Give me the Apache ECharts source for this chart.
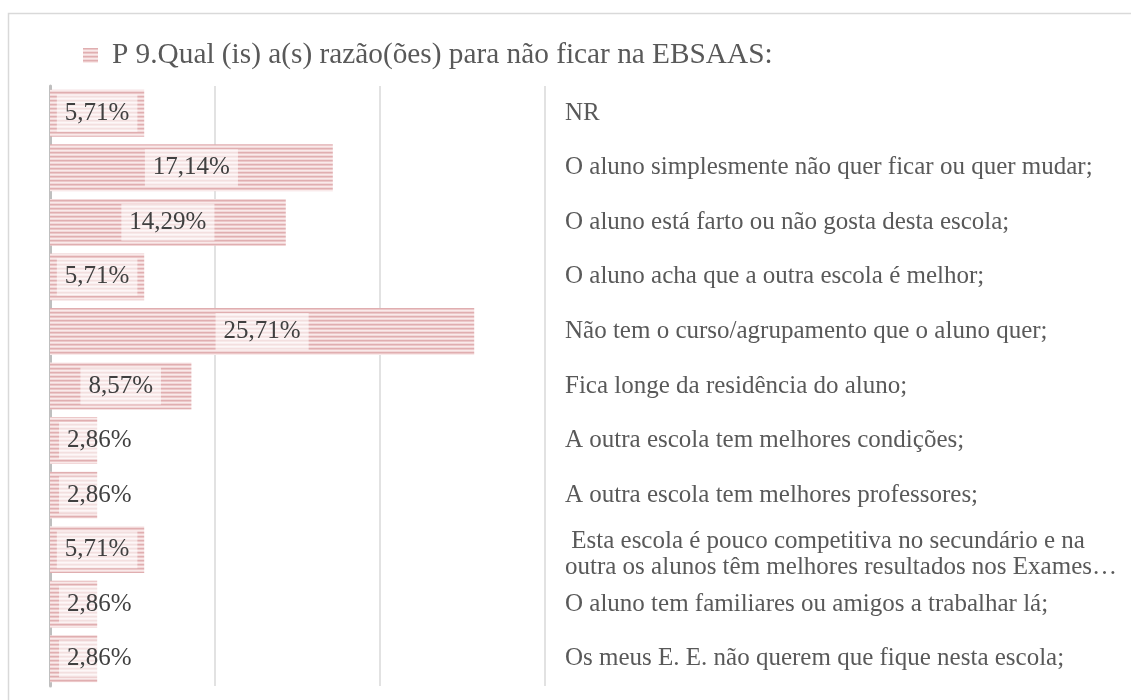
<!DOCTYPE html>
<html>
<head>
<meta charset="utf-8">
<script src="https://cdn.jsdelivr.net/npm/echarts@6/dist/echarts.min.js"></script>
<style>
  html, body { margin: 0; padding: 0; background: #fff; }
  #chart { width: 1131px; height: 700px; }
</style>
</head>
<body>
<div id="chart"></div>
<script>
const seriesName = 'P 9.Qual (is) a(s) razão(ões) para não ficar na EBSAAS:'

const categories = [
  'NR',
  'O aluno simplesmente não quer ficar ou quer mudar;',
  'O aluno está farto ou não gosta desta escola;',
  'O aluno acha que a outra escola é melhor;',
  'Não tem o curso/agrupamento que o aluno quer;',
  'Fica longe da residência do aluno;',
  'A outra escola tem melhores condições;',
  'A outra escola tem melhores professores;',
  ' Esta escola é pouco competitiva no secundário e na\noutra os alunos têm melhores resultados nos Exames…',
  'O aluno tem familiares ou amigos a trabalhar lá;',
  'Os meus E. E. não querem que fique nesta escola;',
]

const values = [5.71, 17.14, 14.29, 5.71, 25.71, 8.57, 2.86, 2.86, 5.71, 2.86, 2.86]

const xTicks = [0, 10, 20, 30]

// striped fill like the Excel pattern
function makeStripes() {
  const c = document.createElement('canvas')
  c.width = 4
  c.height = 4
  const ctx = c.getContext('2d')
  const rows = ['#e0aeb0', '#ecc8c9', '#f9eaea', '#f2d8d9']
  rows.forEach((col, i) => {
    ctx.fillStyle = col
    ctx.fillRect(0, i, 4, 1)
  })
  return c
}
const stripes = { image: makeStripes(), repeat: 'repeat' }

const fmt = (v) => v.toFixed(2).replace('.', ',') + '%'

const chart = echarts.init(document.getElementById('chart'))

const option = {
  animation: false,
  textStyle: { fontFamily: 'Liberation Serif' },
  graphic: [
    {
      type: 'rect',
      shape: { x: 8.5, y: 13.5, width: 1200, height: 800 },
      style: { fill: 'none', stroke: '#d9d9d9', lineWidth: 1.5 },
      silent: true,
    },
  ],
  legend: {
    left: 78,
    top: 36,
    icon: 'rect',
    itemWidth: 15,
    itemHeight: 15,
    textStyle: {
      fontFamily: 'Liberation Serif',
      fontSize: 29.3,
      color: '#595959',
      padding: [0, 0, 0, 9],
    },
    data: [seriesName],
  },
  grid: {
    left: 50,
    right: 586,
    top: 86,
    bottom: 14,
    containLabel: false,
  },
  xAxis: {
    type: 'value',
    min: xTicks[0],
    max: xTicks[xTicks.length - 1],
    interval: 10,
    axisLabel: { show: false },
    axisLine: { show: false },
    axisTick: { show: false },
    splitLine: { show: true, lineStyle: { color: '#d9d9d9', width: 1.5 } },
  },
  yAxis: [
    {
      type: 'category',
      data: categories,
      inverse: true,
      position: 'right',
      axisLine: { show: false },
      axisTick: { show: false },
      axisLabel: {
        margin: 20,
        fontFamily: 'Liberation Serif',
        fontSize: 25,
        lineHeight: 26,
        color: '#595959',
        align: 'left',
        // two-line label sits a little low in the original
        formatter: (v) => (v.indexOf('\n') >= 0 ? '{two|' + v.split('\n').join('}\n{two|') + '}' : v),
        rich: {
          two: {
            fontFamily: 'Liberation Serif',
            fontSize: 25,
            lineHeight: 26,
            color: '#595959',
            padding: [10, 0, 0, 0],
          },
        },
      },
    },
    {
      type: 'category',
      data: categories,
      inverse: true,
      position: 'left',
      axisLine: { show: true, lineStyle: { color: '#bfbfbf', width: 3 } },
      axisTick: { show: false },
      axisLabel: { show: false },
    },
  ],
  series: [
    {
      name: seriesName,
      type: 'bar',
      yAxisIndex: 0,
      barCategoryGap: '14%',
      itemStyle: { color: stripes },
      data: values.map((v) => ({
        value: v,
        label: v < 5 ? { position: 'insideLeft', distance: 9 } : { position: 'inside' },
      })),
      label: {
        show: true,
        formatter: (p) => fmt(p.value),
        fontFamily: 'Liberation Serif',
        fontSize: 25,
        color: '#404040',
        backgroundColor: 'rgba(255,255,255,0.6)',
        padding: [6, 8],
      },
    },
  ],
}

chart.setOption(option)
</script>
</body>
</html>
